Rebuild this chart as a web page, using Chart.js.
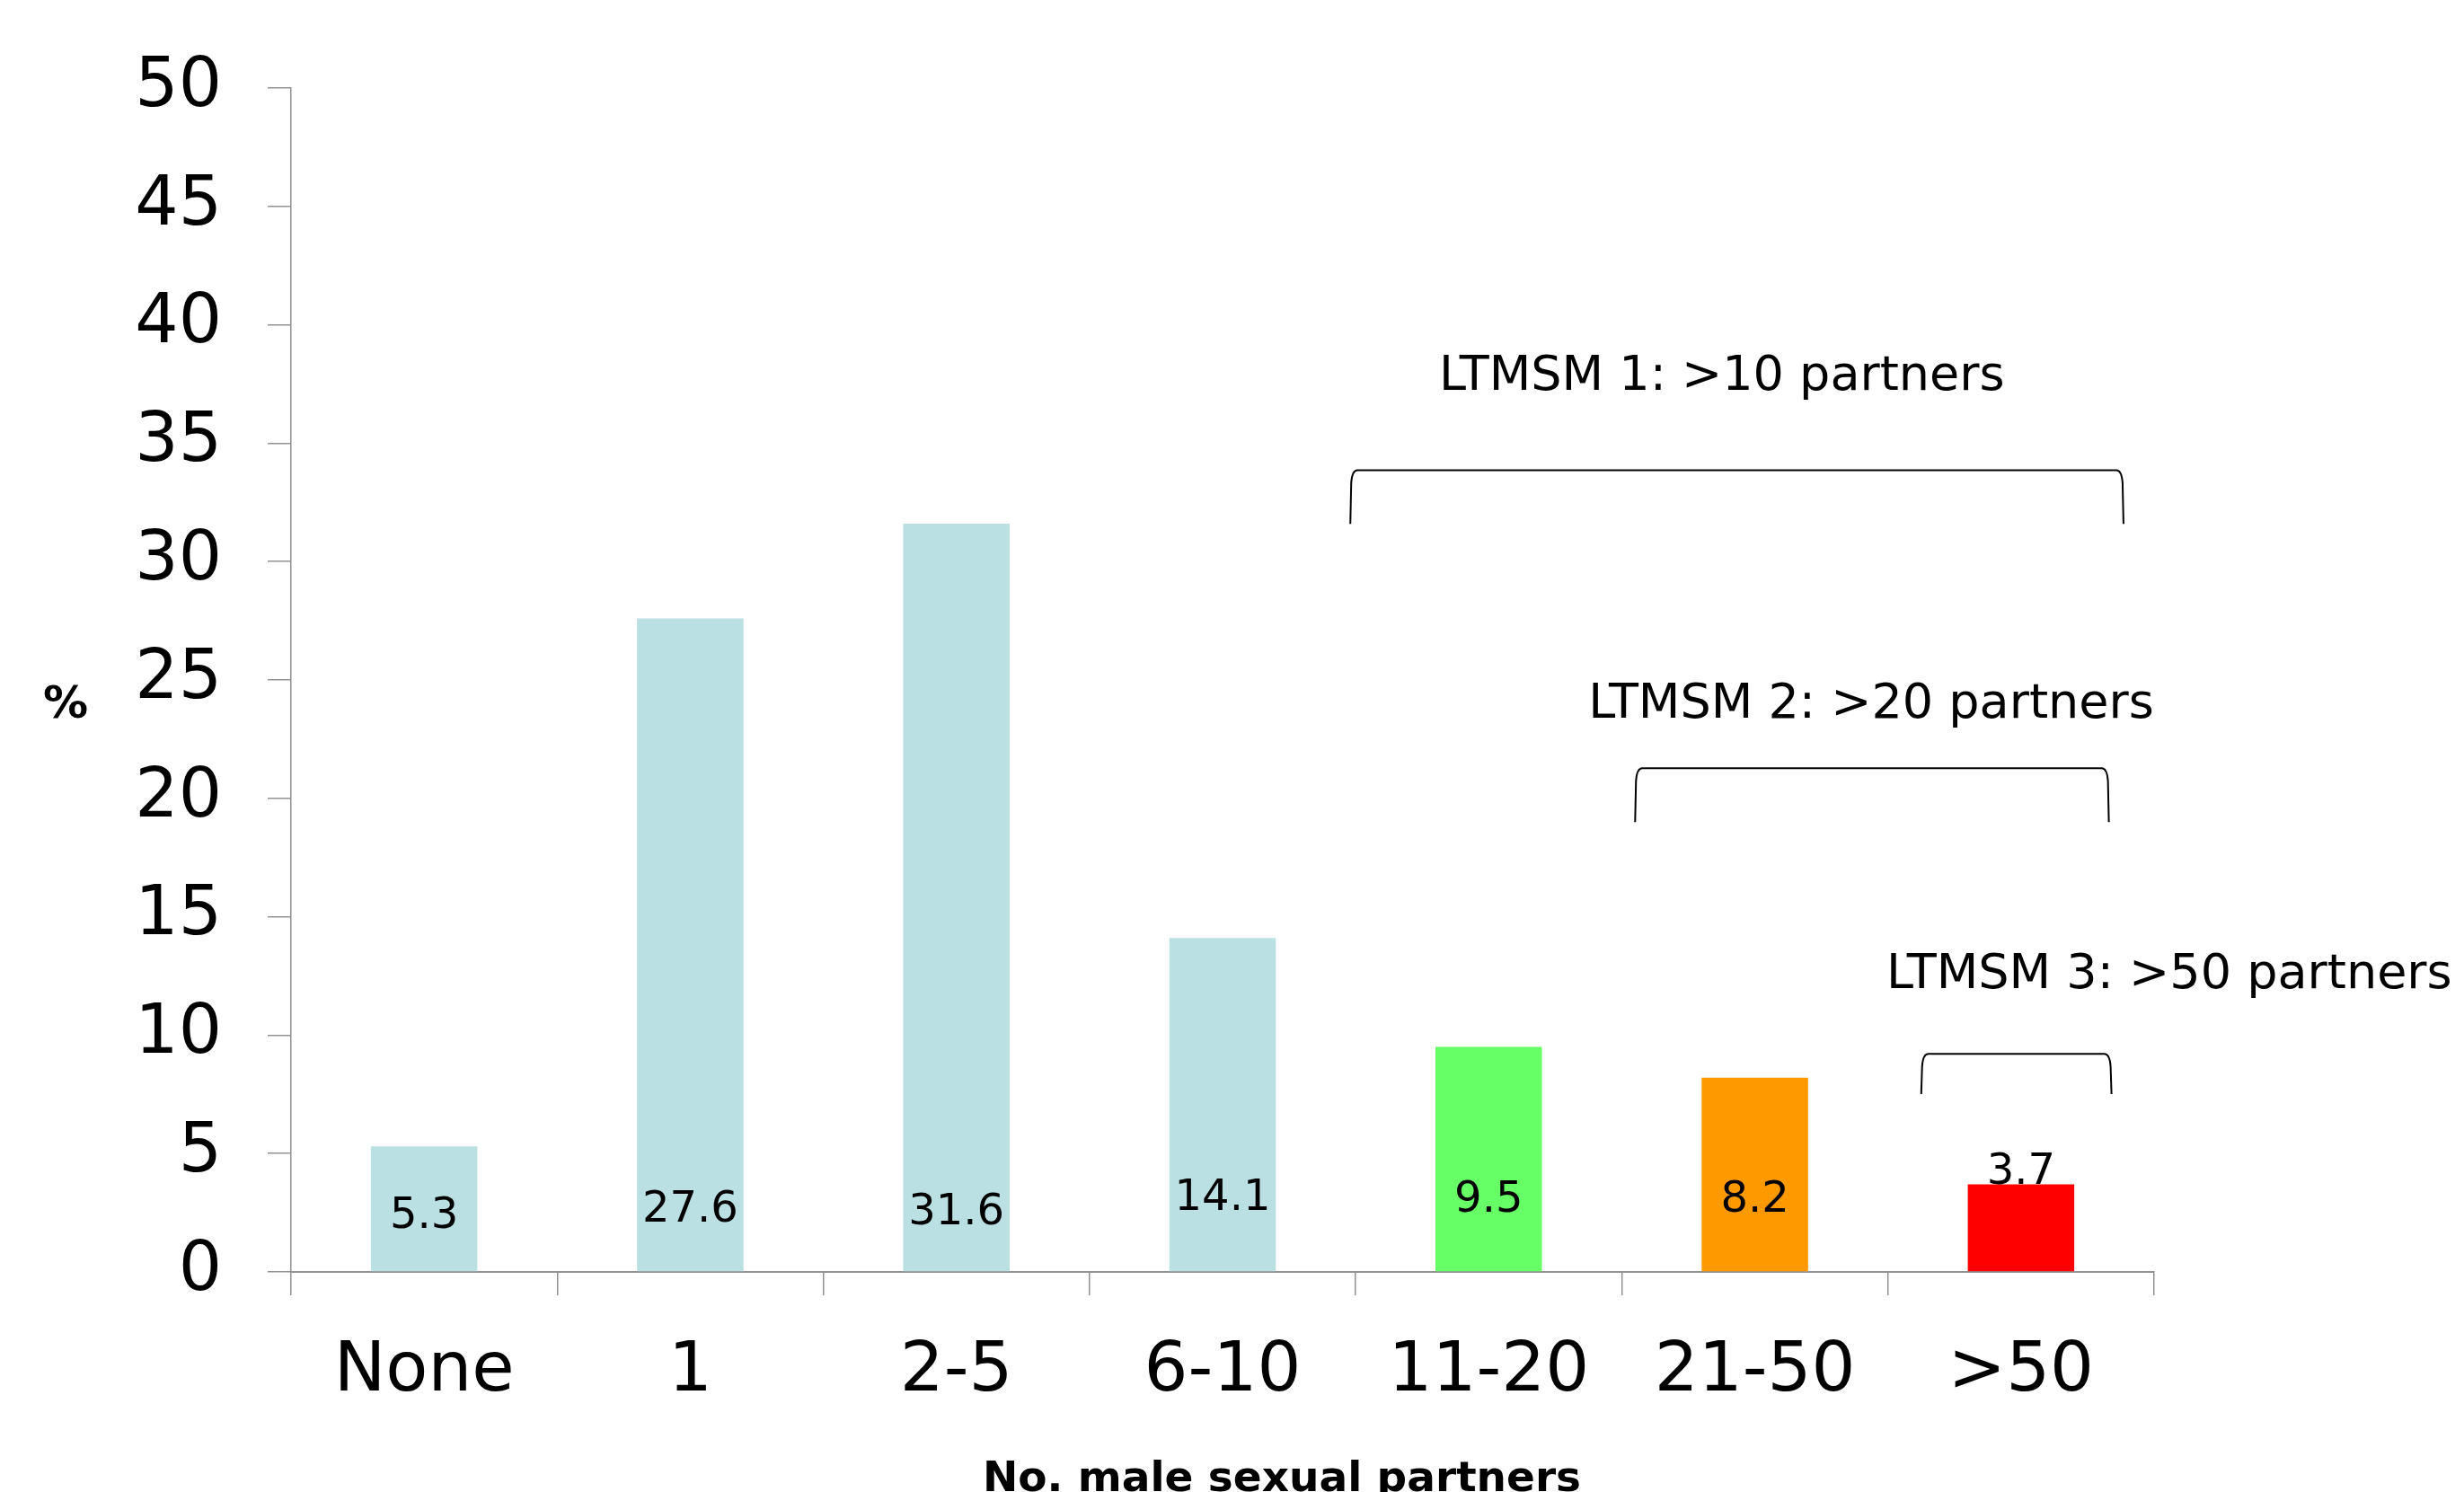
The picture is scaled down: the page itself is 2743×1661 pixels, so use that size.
<!DOCTYPE html>
<html>
<head>
<meta charset="utf-8">
<script src="https://cdn.jsdelivr.net/npm/chart.js@4.4.1/dist/chart.umd.min.js"></script>
<style>
  html, body { margin: 0; padding: 0; background: #ffffff; overflow: hidden; }
  canvas { display: block; }
</style>
</head>
<body>
<canvas id="chart" width="2743" height="1661"></canvas>
<script>
// Share of respondents by number of male sexual partners
const categories = ['None', '1', '2-5', '6-10', '11-20', '21-50', '>50'];
const percentages = [5.3, 27.6, 31.6, 14.1, 9.5, 8.2, 3.7];
const barColors = ['#bbe0e3', '#bbe0e3', '#bbe0e3', '#bbe0e3', '#66ff66', '#ff9900', '#ff0000'];

// Y axis range and step
const yMin = 0;
const yMax = 50;
const yStep = 5;

// Axis titles
const yTitle = '%';
const xTitle = 'No. male sexual partners';

// Group brackets: captions and the categories each one spans
const groupCaptions = ['LTMSM 1: >10 partners', 'LTMSM 2: >20 partners', 'LTMSM 3: >50 partners'];
const groupFrom = ['11-20', '21-50', '>50'];
const groupTo = ['>50', '>50', '>50'];

// Layout of the bracket drawings (category-unit offsets and y-axis units)
const bracketStartShift = [-0.52, -0.45, -0.375];
const bracketEndShift = [0.385, 0.33, 0.34];
const bracketTopAt = [33.86, 21.27, 9.21];
const bracketLegAt = [31.59, 19.0, 7.51];
const captionCenterShift = [-0.124, -0.063, 0.557];
const captionBaselineAt = [37.26, 23.4, 12.0];

// Baseline of each value label, in pixels above the x axis
const valueLabelLift = [49, 56, 53, 69, 67, 67, 98];

const FONT = '"DejaVu Sans", Verdana, sans-serif';
const AXIS_GREY = '#929292';

const annotationPlugin = {
  id: 'annotations',
  afterDatasetsDraw(chart) {
    const ctx = chart.ctx;
    const xs = chart.scales.x;
    const ys = chart.scales.y;
    const meta = chart.getDatasetMeta(0);
    ctx.save();

    // value labels on the bars
    ctx.fillStyle = '#000000';
    ctx.font = '48px ' + FONT;
    ctx.textAlign = 'center';
    ctx.textBaseline = 'alphabetic';
    meta.data.forEach((bar, i) => {
      ctx.fillText(String(percentages[i]), bar.x, ys.bottom - valueLabelLift[i]);
    });

    // group brackets and captions
    ctx.strokeStyle = '#000000';
    ctx.lineWidth = 2;
    ctx.font = '54px ' + FONT;
    groupCaptions.forEach((caption, g) => {
      const i1 = categories.indexOf(groupFrom[g]);
      const i2 = categories.indexOf(groupTo[g]);
      const unit = xs.getPixelForValue(1) - xs.getPixelForValue(0);
      const x1 = xs.getPixelForValue(i1) + bracketStartShift[g] * unit;
      const x2 = xs.getPixelForValue(i2) + bracketEndShift[g] * unit;
      const yTop = ys.getPixelForValue(bracketTopAt[g]);
      const yBot = ys.getPixelForValue(bracketLegAt[g]);
      const bend = Math.min(14, (yBot - yTop) * 0.35);
      ctx.beginPath();
      ctx.moveTo(x1, yBot);
      ctx.lineTo(x1 + 1, yTop + bend);
      ctx.quadraticCurveTo(x1 + 2, yTop, x1 + 8, yTop);
      ctx.lineTo(x2 - 8, yTop);
      ctx.quadraticCurveTo(x2 - 2, yTop, x2 - 1, yTop + bend);
      ctx.lineTo(x2, yBot);
      ctx.stroke();

      const cx = xs.getPixelForValue(i1) + (captionCenterShift[g] + (i2 - i1) / 2) * unit;
      ctx.fillText(caption, cx, ys.getPixelForValue(captionBaselineAt[g]));
    });

    // axis titles
    ctx.font = 'bold 50px ' + FONT;
    ctx.textBaseline = 'middle';
    ctx.fillText(yTitle, 73, ys.getPixelForValue(23.9));
    ctx.font = 'bold 47px ' + FONT;
    ctx.textBaseline = 'alphabetic';
    ctx.fillText(xTitle, (xs.left + xs.right) / 2 + 66, chart.height - 1);

    ctx.restore();
  }
};

new Chart(document.getElementById('chart'), {
  type: 'bar',
  data: {
    labels: categories,
    datasets: [{
      data: percentages,
      backgroundColor: barColors,
      borderWidth: 0,
      categoryPercentage: 1.0,
      barPercentage: 0.4
    }]
  },
  options: {
    responsive: false,
    devicePixelRatio: 1,
    animation: false,
    layout: { padding: { top: 98, right: 345, bottom: 0, left: 0 } },
    plugins: {
      legend: { display: false },
      tooltip: { enabled: false },
      title: { display: false }
    },
    scales: {
      x: {
        offset: true,
        grid: {
          offset: true,
          drawOnChartArea: false,
          drawTicks: true,
          tickLength: 26,
          color: AXIS_GREY,
          lineWidth: 1.5
        },
        border: { display: true, color: AXIS_GREY, width: 2 },
        ticks: {
          color: '#000000',
          font: { family: FONT, size: 77 },
          padding: 40,
          maxRotation: 0,
          autoSkip: false
        },
        afterFit(scale) { scale.height = 245; }
      },
      y: {
        min: yMin,
        max: yMax,
        grid: {
          drawOnChartArea: false,
          drawTicks: true,
          tickLength: 26,
          color: AXIS_GREY,
          lineWidth: 1.5
        },
        border: { display: true, color: AXIS_GREY, width: 1.5 },
        ticks: {
          stepSize: yStep,
          color: '#000000',
          font: { family: FONT, size: 76 },
          padding: 51
        },
        afterFit(scale) { scale.width = 324; }
      }
    }
  },
  plugins: [annotationPlugin]
});
</script>
</body>
</html>
